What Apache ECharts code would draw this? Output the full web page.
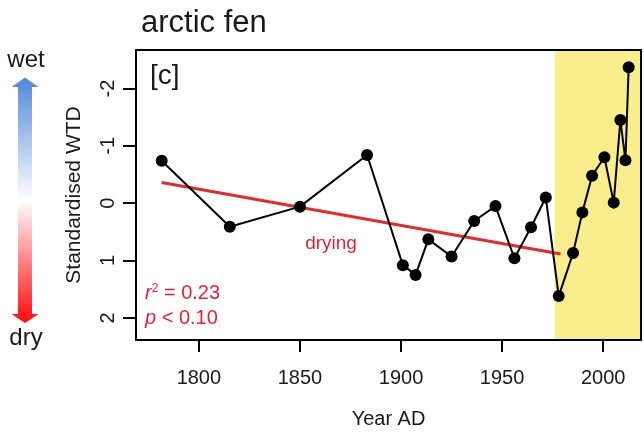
<!DOCTYPE html>
<html>
<head>
<meta charset="utf-8">
<script src="https://cdn.jsdelivr.net/npm/echarts@6/dist/echarts.min.js"></script>
<style>html,body{margin:0;padding:0;background:#fff}#chart{width:644px;height:432px}</style>
</head>
<body>
<div id="chart"></div>
<script>
// arctic fen, panel [c]
const years = [1781.6, 1815.3, 1850.0, 1883.2, 1900.9, 1907.2, 1913.5, 1925.0, 1936.2, 1946.7, 1956.1,
    1964.3, 1971.6, 1978.0, 1985.1, 1989.7, 1994.5, 2000.6, 2005.2, 2008.5, 2011.0, 2012.6];
const wtd = [-0.74, 0.41, 0.06, -0.84, 1.08, 1.25, 0.63, 0.93, 0.31, 0.05, 0.96,
    0.42, -0.10, 1.62, 0.87, 0.16, -0.48, -0.80, -0.01, -1.45, -0.75, -2.37];
const trendYears = [1781.6, 1978.9];
const trendValues = [-0.36, 0.885];
const collapseStart = 1976;
const xTicks = [1800, 1850, 1900, 1950, 2000];
const yTicks = [-2, -1, 0, 1, 2];

const xMin = 1768.9, xMax = 2018.7;
const yMin = -2.671, yMax = 2.385;
const font = "'Liberation Sans', Arial, sans-serif";
const ink = '#1a1a1a';
const red = '#e8203a';

const boxAxis = (extra) => Object.assign({
    type: 'value', z: 3,
    axisLine: { show: true, onZero: false, lineStyle: { color: '#000', width: 2 } },
    axisTick: { show: false }, axisLabel: { show: false }, splitLine: { show: false }
}, extra);

const chart = echarts.init(document.getElementById('chart'));
chart.setOption({
    animation: false,
    backgroundColor: '#fff',
    textStyle: { fontFamily: font },
    grid: { left: 136, top: 50, width: 505, height: 290, containLabel: false, outerBoundsMode: 'none' },
    xAxis: [
        boxAxis({
            position: 'bottom', min: xMin, max: xMax,
            name: 'Year AD', nameLocation: 'middle', nameGap: 69,
            nameTextStyle: { fontSize: 20, color: ink, fontFamily: font },
            axisTick: { show: true, length: 12, customValues: xTicks, lineStyle: { color: '#000', width: 2 } },
            axisLabel: {
                show: true, margin: 28, fontSize: 20, color: ink, fontFamily: font,
                customValues: xTicks, formatter: (v) => String(v)
            }
        }),
        boxAxis({ position: 'top', min: xMin, max: xMax })
    ],
    yAxis: [
        boxAxis({
            position: 'left', inverse: true, min: yMin, max: yMax,
            name: 'Standardised WTD', nameLocation: 'middle', nameGap: 51,
            nameTextStyle: { fontSize: 21, color: ink, fontFamily: font },
            axisTick: { show: true, length: 13, customValues: yTicks, lineStyle: { color: '#000', width: 2 } },
            axisLabel: {
                show: true, rotate: 90, margin: 18, fontSize: 20, color: ink, fontFamily: font,
                customValues: yTicks, formatter: (v) => String(v)
            }
        }),
        boxAxis({ position: 'right', inverse: true, min: yMin, max: yMax })
    ],
    series: [
        {
            type: 'line', z: 2, symbol: 'none',
            data: trendYears.map((y, i) => [y, trendValues[i]]),
            lineStyle: { color: '#e32b2b', width: 3 },
            markArea: {
                silent: true,
                itemStyle: { color: '#f9ed8c' },
                data: [[{ xAxis: collapseStart }, { xAxis: xMax }]]
            }
        },
        {
            type: 'line', z: 4, symbol: 'circle', symbolSize: 12,
            data: years.map((y, i) => [y, wtd[i]]),
            lineStyle: { color: '#000', width: 2 },
            itemStyle: { color: '#000' }
        }
    ],
    graphic: [
        { type: 'text', x: 141, y: 23, style: { text: 'arctic fen', font: '31px ' + font, fill: ink, align: 'left', verticalAlign: 'middle' } },
        { type: 'text', x: 150, y: 76, style: { text: '[c]', font: '28px ' + font, fill: ink, align: 'left', verticalAlign: 'middle' } },
        { type: 'text', x: 331, y: 244, style: { text: 'drying', font: '19px ' + font, fill: red, align: 'center', verticalAlign: 'middle' } },
        {
            type: 'text', x: 145, y: 293,
            style: {
                text: '{i|r}{s|2} = 0.23', fill: red, align: 'left', verticalAlign: 'middle', font: '20px ' + font,
                rich: {
                    i: { fontStyle: 'italic', fontSize: 20, fontFamily: font, fill: red },
                    s: { fontSize: 12, fontFamily: font, fill: red, verticalAlign: 'top', padding: [0, 0, 8, 0] }
                }
            }
        },
        {
            type: 'text', x: 145, y: 318,
            style: {
                text: '{i|p} < 0.10', fill: red, align: 'left', verticalAlign: 'middle', font: '20px ' + font,
                rich: { i: { fontStyle: 'italic', fontSize: 20, fontFamily: font, fill: red } }
            }
        },
        { type: 'text', x: 593, y: 254, rotation: 1.17, style: { text: 'collapse', font: 'italic 21px ' + font, fill: ink, align: 'center', verticalAlign: 'middle' } },
        { type: 'text', x: 26, y: 60, style: { text: 'wet', font: '24px ' + font, fill: ink, align: 'center', verticalAlign: 'middle' } },
        { type: 'text', x: 26, y: 338, style: { text: 'dry', font: '24px ' + font, fill: ink, align: 'center', verticalAlign: 'middle' } },
        {
            type: 'polygon',
            shape: {
                points: [[25, 77.5], [38.5, 87], [32, 87], [32, 314], [38.5, 314], [25, 323],
                    [11.5, 314], [18, 314], [18, 87], [11.5, 87]]
            },
            style: {
                fill: new echarts.graphic.LinearGradient(0, 0, 0, 1, [
                    { offset: 0, color: '#4f87d8' },
                    { offset: 0.5, color: '#ffffff' },
                    { offset: 1, color: '#ff0a0a' }
                ])
            }
        }
    ]
});
</script>
</body>
</html>
